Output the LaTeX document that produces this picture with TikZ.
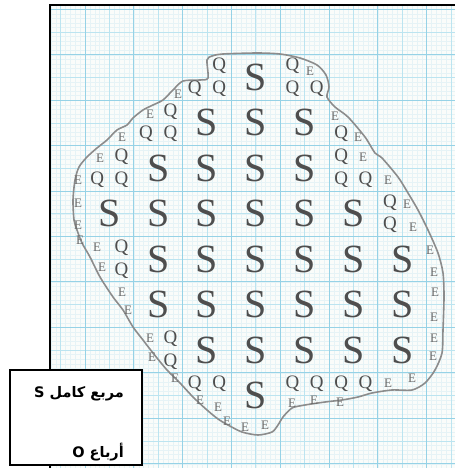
\documentclass[tikz,border=0pt]{standalone}
\usepackage{fontspec}
\newfontfamily\letterfont{Liberation Serif}
\newfontfamily\arabicfont[Script=Arabic]{DejaVu Sans}
\TeXXeTstate=1
\definecolor{paper}{HTML}{FAFCFA}
\definecolor{gridmajor}{HTML}{96D2E6}
\definecolor{gridmid}{HTML}{BCE4F0}
\definecolor{gridminor}{HTML}{E6F3F6}
\definecolor{ink}{HTML}{4E4E4E}
\definecolor{inklight}{HTML}{6A6A6A}
\definecolor{outline}{HTML}{8C8C8C}

\begin{document}
\begin{tikzpicture}[x=1pt,y=-1pt,
  fullsquare/.style={font=\letterfont\fontsize{40}{40}\selectfont,text=ink,inner sep=0pt},
  quarter/.style={font=\letterfont\fontsize{19}{19}\selectfont,text=ink,inner sep=0pt},
  edgemark/.style={font=\letterfont\fontsize{13}{13}\selectfont,text=inklight,inner sep=0pt},
  legendbox/.style={draw,fill=white,line width=1.5pt,minimum width=132pt,minimum height=95pt,inner sep=0pt},
  arlabel/.style={font=\arabicfont\bfseries\fontsize{14.5}{14.5}\selectfont,inner sep=0pt}]
  \useasboundingbox (0,0) rectangle (455,468);
  \fill[paper] (50,5) rectangle (455,468);
  \foreach \k in {-2,...,80}
    \draw[gridminor,line width=0.3pt] ({60.6+4.88*\k},5) -- ({60.6+4.88*\k},468);
  \foreach \m in {-5,...,95}
    \draw[gridminor,line width=0.3pt] (50,{32+4.544*\m}) -- (455,{32+4.544*\m});
  \foreach \i in {0,2,...,16}
    \draw[gridmid,line width=0.7pt] ({60.6+24.4*\i},5) -- ({60.6+24.4*\i},468);
  \foreach \j in {0,2,...,18}
    \draw[gridmid,line width=0.7pt] (50,{32+22.72*\j}) -- (455,{32+22.72*\j});
  \foreach \i in {1,3,...,15}
    \draw[gridmajor,line width=1pt] ({60.6+24.4*\i},5) -- ({60.6+24.4*\i},468);
  \foreach \j in {-1,1,...,19}
    \draw[gridmajor,line width=1pt] (50,{32+22.72*\j}) -- (455,{32+22.72*\j});
  \draw[line width=2.5pt] (50,468) -- (50,5) -- (455,5);

  \draw[outline,line width=1.6pt] plot[smooth cycle,tension=0.45] coordinates {
    (208,78) (207,60) (212,56) (223,54) (257,53) (280,54) (300,58) (317,65)
    (326,75) (329,87) (327,97) (335,107) (348,117) (365,137) (375,153) (382,158)
    (398,177) (408,193) (418,210) (428,230) (438,253) (443,273) (444,297) (443,330)
    (442,353) (435,370) (425,383) (412,390) (392,390) (372,393) (358,397) (342,400)
    (325,402) (305,405) (292,408) (283,417) (278,425) (272,432) (258,435) (242,432)
    (228,425) (218,419) (207,410) (193,397) (180,383) (167,370) (153,353) (143,340)
    (133,327) (123,310) (113,297) (100,277) (90,257) (82,243) (77,230) (74,220)
    (73,200) (75,180) (79,167) (87,157) (97,148) (107,140) (117,130) (127,125)
    (133,118) (143,110) (153,105) (163,100) (173,90) (183,81) (200,80)};

  \begin{scope}[shift={(60.6,32)},x=24.4pt,y=-22.72pt]
    \foreach \j/\cols in {2/{8},4/{6,8,10},6/{4,6,8,10},8/{2,4,...,12},
        10/{4,6,...,14},12/{4,6,...,14},14/{6,8,...,14},16/{8}}
      \foreach \i in \cols
        \node[fullsquare] (s-\i-\j) at (\i,\j) {S};
    \foreach \a/\b in {6/1,5/2,6/2,9/1,9/2,10/2,4/3,3/4,4/4,11/4,11/5,11/6,12/6,
        2/5,1/6,2/6,13/7,13/8,2/9,2/10,4/13,4/14,5/15,6/15,9/15,10/15,11/15,12/15}
      \node[quarter] (q-\a-\b) at (\a+0.5,\b+0.5) {Q};
  \end{scope}

  \foreach \x/\y [count=\n] in {178/94,310/71,150/114,122/137,100/158,78/180,
      78/203,78/225,80/240,97/247,102/267,122/292,128/310,150/338,152/357,
      175/378,200/400,218/407,227/421,245/427,265/425,292/403,314/400,340/402,
      388/383,412/378,430/250,434/272,435/292,434/317,434/338,433/356,
      335/116,358/137,363/157,388/180,407/204,413/227}
    \node[edgemark] (e-\n) at (\x,\y) {E};

  \node[legendbox] (legend) at (76,417.5) {};
  \node[arlabel,anchor=east] (fullsq) at (124,394) {\beginR مربع كامل S\endR};
  \node[arlabel,anchor=east] (quartsq) at (124,452) {\beginR أرباع O\endR};
\end{tikzpicture}
\end{document}
